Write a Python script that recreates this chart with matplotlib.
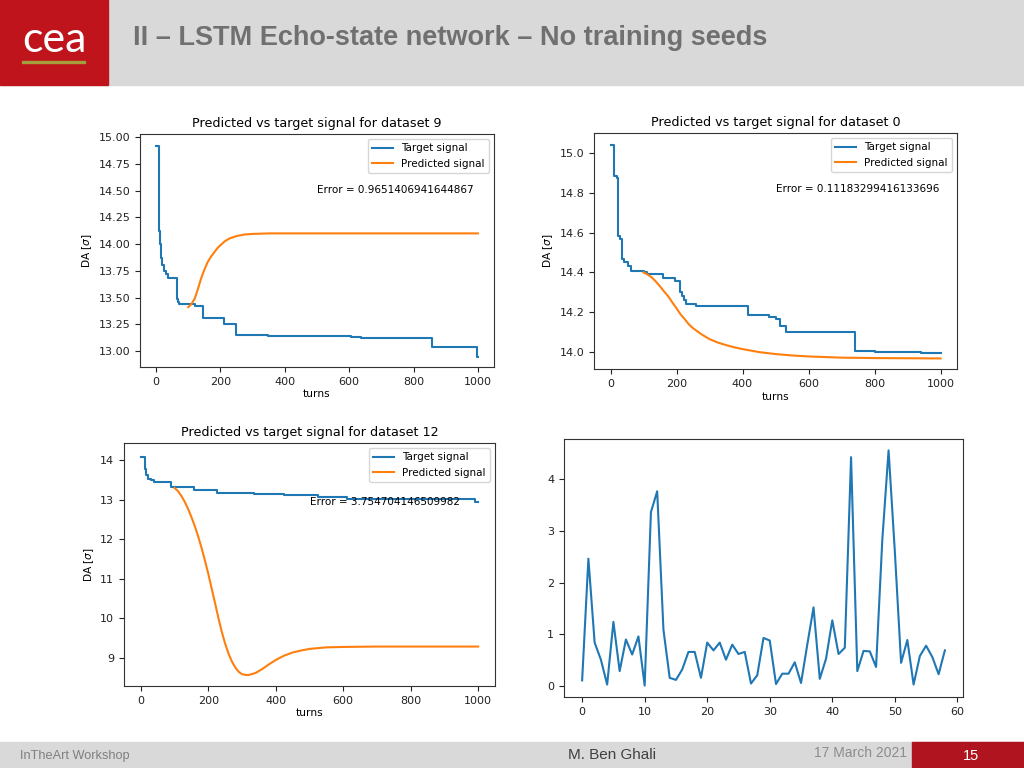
import matplotlib
matplotlib.use("Agg")
import matplotlib.pyplot as plt
from matplotlib.patches import Rectangle

W, H = 1024, 768

# dataset 9 : target (step) and predicted signal
ds9_turns = [0, 9, 11, 14, 18, 24, 30, 36, 66, 68, 71, 120, 146, 211, 247, 347, 607, 636, 856, 998, 1000]
ds9_target = [14.92, 14.12, 14.0, 13.87, 13.80, 13.75, 13.72, 13.68, 13.49, 13.46, 13.44, 13.42,
              13.31, 13.25, 13.15, 13.14, 13.13, 13.12, 13.04, 12.94, 12.94]
ds9_pred_turns = [100, 110, 120, 130, 140, 150, 160, 170, 180, 190, 200, 215, 230, 250, 275, 300,
                  350, 400, 1000]
ds9_pred = [13.41, 13.44, 13.49, 13.58, 13.68, 13.76, 13.83, 13.88, 13.92, 13.96, 13.99, 14.03,
            14.055, 14.075, 14.09, 14.095, 14.10, 14.10, 14.10]

# dataset 0
ds0_turns = [0, 12, 20, 24, 28, 34, 42, 53, 61, 100, 111, 159, 194, 212, 216, 222, 230, 260,
             418, 479, 503, 514, 531, 741, 800, 941, 1000]
ds0_target = [15.04, 14.885, 14.876, 14.585, 14.566, 14.465, 14.45, 14.43, 14.407, 14.40, 14.39,
              14.373, 14.357, 14.30, 14.28, 14.26, 14.24, 14.231, 14.184, 14.176, 14.168, 14.13,
              14.10, 14.006, 13.998, 13.993, 13.993]
ds0_pred_turns = [100, 112, 125, 137, 150, 162, 175, 187, 200, 212, 225, 237, 250, 275, 300, 325,
                  350, 375, 400, 450, 500, 550, 600, 700, 800, 1000]
ds0_pred = [14.40, 14.39, 14.375, 14.355, 14.33, 14.305, 14.28, 14.25, 14.22, 14.19, 14.165,
            14.14, 14.12, 14.09, 14.065, 14.048, 14.035, 14.024, 14.015, 14.0, 13.99, 13.983,
            13.978, 13.972, 13.97, 13.968]

# dataset 12
ds12_turns = [0, 12, 16, 21, 29, 40, 88, 157, 226, 335, 424, 525, 610, 990, 1000]
ds12_target = [14.08, 13.77, 13.62, 13.54, 13.49, 13.46, 13.32, 13.25, 13.17, 13.14, 13.11,
               13.06, 13.02, 12.94, 12.94]
ds12_pred_turns = [100, 110, 120, 130, 140, 150, 160, 170, 180, 190, 200, 210, 220, 230, 240,
                   250, 260, 270, 280, 290, 300, 310, 320, 340, 360, 380, 400, 425, 450, 475,
                   500, 550, 600, 700, 1000]
ds12_pred = [13.30, 13.22, 13.10, 12.95, 12.77, 12.56, 12.33, 12.07, 11.78, 11.46, 11.12, 10.75,
             10.38, 10.00, 9.65, 9.35, 9.10, 8.90, 8.75, 8.64, 8.58, 8.56, 8.56, 8.61, 8.71,
             8.83, 8.94, 9.05, 9.13, 9.18, 9.22, 9.26, 9.27, 9.28, 9.28]

errors = {"9": "0.9651406941644867", "0": "0.11183299416133696", "12": "3.754704146509982"}

# error per dataset (bottom-right panel)
err_values = [0.11, 2.46, 0.84, 0.51, 0.03, 1.24, 0.29, 0.90, 0.61, 0.96,
              0.01, 3.36, 3.76, 1.09, 0.16, 0.12, 0.32, 0.66, 0.66, 0.16,
              0.84, 0.69, 0.84, 0.51, 0.80, 0.62, 0.66, 0.05, 0.21, 0.93,
              0.88, 0.04, 0.24, 0.24, 0.46, 0.06, 0.80, 1.52, 0.14, 0.53,
              1.27, 0.62, 0.74, 4.42, 0.29, 0.68, 0.67, 0.37, 2.83, 4.55,
              2.60, 0.45, 0.89, 0.03, 0.58, 0.78, 0.56, 0.23, 0.69]
err_index = list(range(len(err_values)))

SLIDE_FONT = ["Liberation Sans", "DejaVu Sans"]


def px_axes(fig, left, top, right, bottom):
    return fig.add_axes([left / W, 1 - bottom / H, (right - left) / W, (bottom - top) / H])


def style_axes(ax, fs):
    for s in ax.spines.values():
        s.set_color("#333333")
    ax.tick_params(labelsize=fs, colors="#222222")


def signal_panel(ax, turns, target, pred_turns, pred, name, err_pos, ylim, fs=8):
    ax.step(turns, target, where="post", color="C0", lw=1.5, label="Target signal")
    ax.plot(pred_turns, pred, color="C1", lw=1.5, label="Predicted signal")
    ax.set_xlim(-50, 1050)
    ax.set_ylim(*ylim)
    ax.set_title(f"Predicted vs target signal for dataset {name}", fontsize=fs + 1.2, pad=5)
    ax.set_xlabel("turns", fontsize=fs - 0.3, labelpad=2)
    ax.set_ylabel(r"DA [$\sigma$]", fontsize=fs - 0.3, labelpad=3)
    ax.legend(loc="upper right", fontsize=fs - 0.5, handlelength=2.0)
    ax.text(err_pos[0], err_pos[1], f"Error = {errors[name]}", fontsize=fs - 0.5,
            ha="left", va="center")
    style_axes(ax, fs)


def main():
    fig = plt.figure(figsize=(W / 100, H / 100), dpi=100)
    fig.patch.set_facecolor("white")

    def rect(x, y, w, h, color):
        fig.patches.append(Rectangle((x / W, 1 - (y + h) / H), w / W, h / H,
                                     transform=fig.transFigure, color=color, zorder=0))

    # header
    rect(0, 0, W, 85, "#d9d9d9")
    rect(0, 0, 108, 85, "#c0141c")
    rect(22, 61, 63, 2, "#a39d3c")
    fig.text(54 / W, 1 - 40 / H, "cea", color="white", fontsize=31,
             family=["Lato", "DejaVu Sans"], ha="center", va="center")
    fig.text(133 / W, 1 - 38 / H, "II \u2013 LSTM Echo-state network \u2013 No training seeds",
             color="#707070", fontsize=19.5, fontweight="bold",
             family=SLIDE_FONT, ha="left", va="center")

    # footer
    rect(0, 742, W, 26, "#d9d9d9")
    rect(912, 742, 112, 26, "#b0151f")
    fig.text(20 / W, 1 - 756 / H, "InTheArt Workshop", color="#7f7f7f", fontsize=9.2,
             family=SLIDE_FONT, ha="left", va="center")
    fig.text(612 / W, 1 - 755 / H, "M. Ben Ghali", color="#404040", fontsize=11,
             family=SLIDE_FONT, ha="center", va="center")
    fig.text(860 / W, 1 - 753 / H, "17 March 2021", color="#8c8c8c", fontsize=10,
             family=SLIDE_FONT, ha="center", va="center")
    fig.text(971 / W, 1 - 756 / H, "15", color="white", fontsize=10.5,
             family=SLIDE_FONT, ha="center", va="center")

    ax1 = px_axes(fig, 140, 134, 494, 367)
    signal_panel(ax1, ds9_turns, ds9_target, ds9_pred_turns, ds9_pred, "9",
                 (500, 14.51), (12.85, 15.03))

    ax2 = px_axes(fig, 594, 133, 957, 369)
    signal_panel(ax2, ds0_turns, ds0_target, ds0_pred_turns, ds0_pred, "0",
                 (500, 14.82), (13.915, 15.10))

    ax3 = px_axes(fig, 124, 443, 495, 686)
    signal_panel(ax3, ds12_turns, ds12_target, ds12_pred_turns, ds12_pred, "12",
                 (500, 12.95), (8.28, 14.44))

    ax4 = px_axes(fig, 564, 439, 963, 697)
    ax4.plot(err_index, err_values, color="C0", lw=1.5)
    ax4.set_xlim(-2.9, 60.9)
    ax4.set_ylim(-0.21, 4.77)
    style_axes(ax4, 8)

    fig.savefig("out.png", dpi=100)


if __name__ == "__main__":
    main()
